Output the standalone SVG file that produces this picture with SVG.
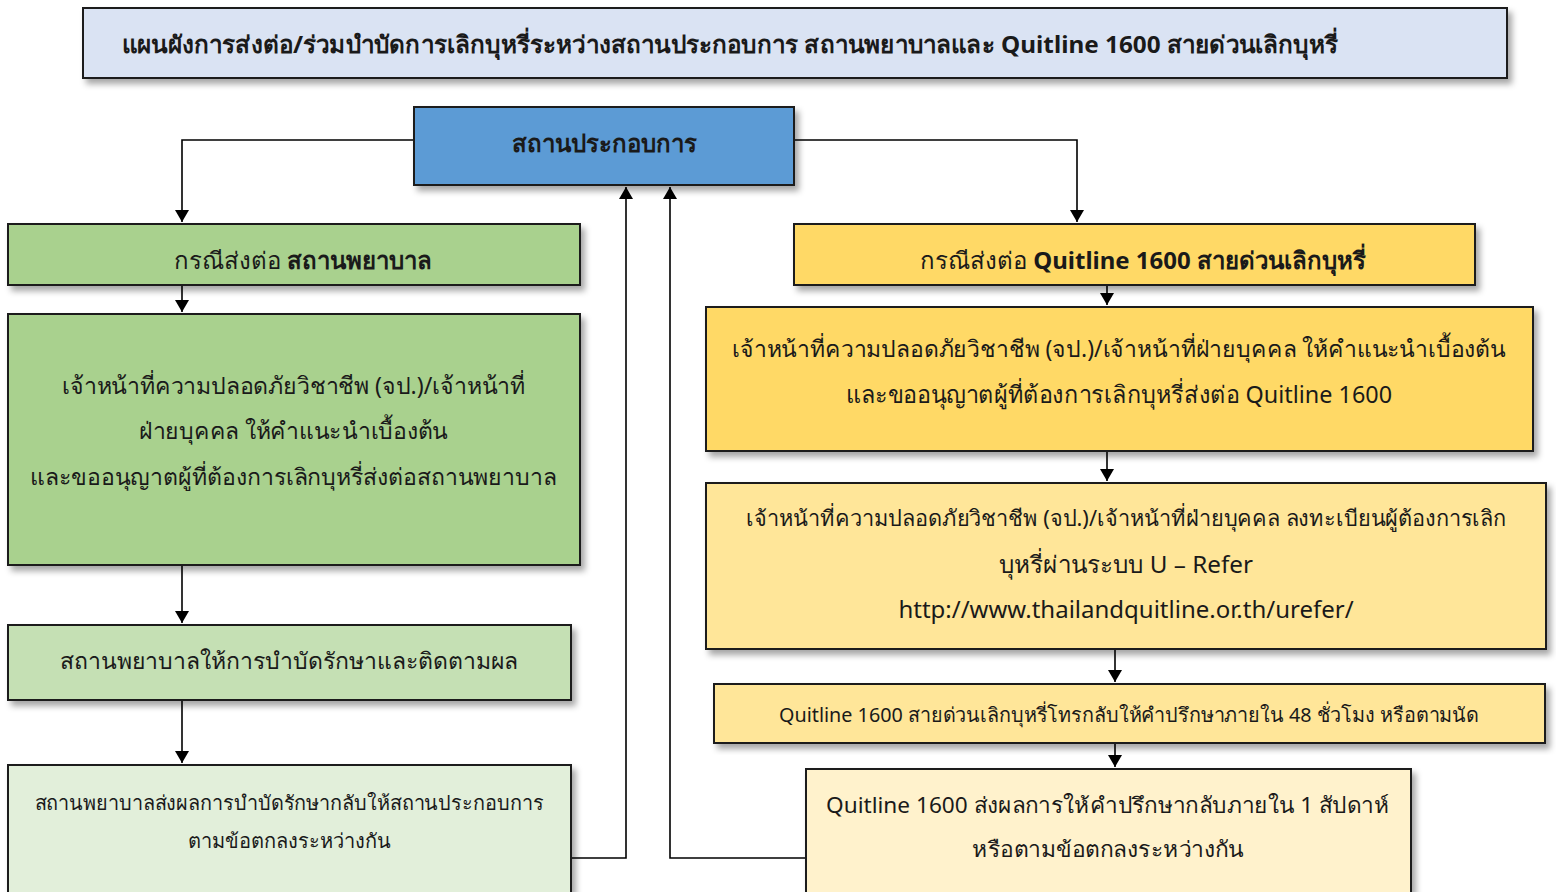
<svg xmlns="http://www.w3.org/2000/svg" width="1556" height="892" viewBox="0 0 1556 892">
<style>
.box{stroke:#1a1a1a;stroke-width:2;filter:url(#sh)}
.t{font-family:"Noto Sans","DejaVu Sans",sans-serif;fill:#1a1a1a;text-anchor:middle;dominant-baseline:central}
.b{font-weight:bold}
.c{fill:none;stroke:#000;stroke-width:1.6;marker-end:url(#ah)}
</style>
<defs>
<filter id="sh" x="-5%" y="-10%" width="115%" height="130%">
<feDropShadow dx="4" dy="5" stdDeviation="3" flood-color="#000" flood-opacity="0.35"/>
</filter>
<marker id="ah" viewBox="0 0 12 14" refX="12" refY="7" markerWidth="12" markerHeight="14" markerUnits="userSpaceOnUse" orient="auto">
<path d="M0,0 L12,7 L0,14 z" fill="#000"/>
</marker>
</defs>
<rect width="1556" height="892" fill="#fff"/>
<g id="connectors">
<path class="c" d="M414,140 H182 V222"/>
<path class="c" d="M794,140 H1077 V222"/>
<path class="c" d="M182,285 V312"/>
<path class="c" d="M182,565 V623"/>
<path class="c" d="M182,700 V763"/>
<path class="c" d="M571,858 H626 V187"/>
<path class="c" d="M805,858 H670 V187"/>
<path class="c" d="M1107,285 V305"/>
<path class="c" d="M1107,451 V481"/>
<path class="c" d="M1115,649 V682"/>
<path class="c" d="M1115,743 V767"/>
</g>
<g id="title">
<rect class="box" x="83" y="8" width="1424" height="70" fill="#dae3f3"/>
<text class="t b" x="730" y="43" font-size="24" textLength="1216" lengthAdjust="spacingAndGlyphs">แผนผังการส่งต่อ/ร่วมบำบัดการเลิกบุหรี่ระหว่างสถานประกอบการ สถานพยาบาลและ Quitline 1600 สายด่วนเลิกบุหรี่</text>
</g>
<g id="n-workplace">
<rect class="box" x="414" y="107" width="380" height="78" fill="#5b9bd5"/>
<text class="t b" x="604" y="142" font-size="24">สถานประกอบการ</text>
</g>
<g id="n-hosp-case">
<rect class="box" x="8" y="224" width="572" height="61" fill="#a9d18e"/>
<text class="t" x="303" y="259" font-size="24">กรณีส่งต่อ <tspan class="b">สถานพยาบาล</tspan></text>
</g>
<g id="n-hosp-advice">
<rect class="box" x="8" y="314" width="572" height="251" fill="#a9d18e"/>
<text class="t" x="293.5" y="385" font-size="23.4" textLength="463" lengthAdjust="spacingAndGlyphs">เจ้าหน้าที่ความปลอดภัยวิชาชีพ (จป.)/เจ้าหน้าที่</text>
<text class="t" x="293.5" y="430" font-size="23.4" textLength="309" lengthAdjust="spacingAndGlyphs">ฝ่ายบุคคล ให้คำแนะนำเบื้องต้น</text>
<text class="t" x="293.5" y="476" font-size="23.2" textLength="527" lengthAdjust="spacingAndGlyphs">และขออนุญาตผู้ที่ต้องการเลิกบุหรี่ส่งต่อสถานพยาบาล</text>
</g>
<g id="n-hosp-treat">
<rect class="box" x="8" y="625" width="563" height="75" fill="#c5e0b4"/>
<text class="t" x="289" y="660" font-size="23" textLength="458" lengthAdjust="spacingAndGlyphs">สถานพยาบาลให้การบำบัดรักษาและติดตามผล</text>
</g>
<g id="n-hosp-report">
<rect class="box" x="8" y="765" width="563" height="140" fill="#e2efda"/>
<text class="t" x="289" y="802" font-size="20" textLength="509" lengthAdjust="spacingAndGlyphs">สถานพยาบาลส่งผลการบำบัดรักษากลับให้สถานประกอบการ</text>
<text class="t" x="289" y="840" font-size="20">ตามข้อตกลงระหว่างกัน</text>
</g>
<g id="n-ql-case">
<rect class="box" x="794" y="224" width="681" height="61" fill="#ffd966"/>
<text class="t" x="1143" y="259" font-size="24">กรณีส่งต่อ <tspan class="b">Quitline 1600 สายด่วนเลิกบุหรี่</tspan></text>
</g>
<g id="n-ql-advice">
<rect class="box" x="706" y="307" width="827" height="144" fill="#ffd966"/>
<text class="t" x="1119" y="348" font-size="23.2" textLength="774" lengthAdjust="spacingAndGlyphs">เจ้าหน้าที่ความปลอดภัยวิชาชีพ (จป.)/เจ้าหน้าที่ฝ่ายบุคคล ให้คำแนะนำเบื้องต้น</text>
<text class="t" x="1119" y="393" font-size="24" textLength="546" lengthAdjust="spacingAndGlyphs">และขออนุญาตผู้ที่ต้องการเลิกบุหรี่ส่งต่อ Quitline 1600</text>
</g>
<g id="n-ql-register">
<rect class="box" x="706" y="483" width="840" height="166" fill="#ffe699"/>
<text class="t" x="1126" y="517" font-size="22" textLength="760" lengthAdjust="spacingAndGlyphs">เจ้าหน้าที่ความปลอดภัยวิชาชีพ (จป.)/เจ้าหน้าที่ฝ่ายบุคคล ลงทะเบียนผู้ต้องการเลิก</text>
<text class="t" x="1126" y="563" font-size="24" textLength="254" lengthAdjust="spacingAndGlyphs">บุหรี่ผ่านระบบ U – Refer</text>
<text class="t" x="1126" y="608" font-size="24">http://www.thailandquitline.or.th/urefer/</text>
</g>
<g id="n-ql-call">
<rect class="box" x="714" y="684" width="831" height="59" fill="#ffe699"/>
<text class="t" x="1129" y="714" font-size="20" textLength="700" lengthAdjust="spacingAndGlyphs">Quitline 1600 สายด่วนเลิกบุหรี่โทรกลับให้คำปรึกษาภายใน 48 ชั่วโมง หรือตามนัด</text>
</g>
<g id="n-ql-report">
<rect class="box" x="806" y="769" width="605" height="140" fill="#fff2cc"/>
<text class="t" x="1107.5" y="804" font-size="22" textLength="563" lengthAdjust="spacingAndGlyphs">Quitline 1600 ส่งผลการให้คำปรึกษากลับภายใน 1 สัปดาห์</text>
<text class="t" x="1108" y="848" font-size="22" textLength="272" lengthAdjust="spacingAndGlyphs">หรือตามข้อตกลงระหว่างกัน</text>
</g>
</svg>
